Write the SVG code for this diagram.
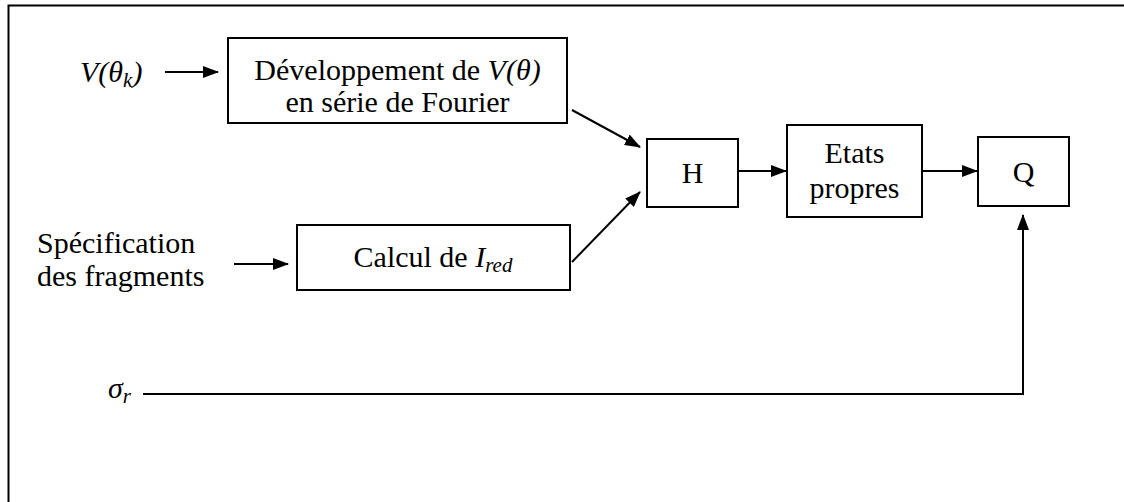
<svg xmlns="http://www.w3.org/2000/svg" width="1124" height="502" viewBox="0 0 1124 502">
<style>
.box{fill:#fff;stroke:#000;stroke-width:2}
.t{font-family:"Liberation Serif","Times New Roman",serif;font-size:30px;fill:#000}
.i{font-style:italic}
.s{font-size:21px}
.c{stroke:#000;stroke-width:2;fill:none}
</style>
<defs>
<marker id="ah" viewBox="0 0 16 12" refX="15" refY="6" markerWidth="16" markerHeight="12" markerUnits="userSpaceOnUse" orient="auto">
<path d="M0,0 L16,6 L0,12 z" fill="#000"/>
</marker>
</defs>
<rect width="1124" height="502" fill="#fff"/>
<path d="M8.5,502 V5.5 H1124" fill="none" stroke="#000" stroke-width="2"/>
<g id="in1"><text class="t i" x="80" y="82">V(θ<tspan class="s" dy="5">k</tspan><tspan dy="-5">)</tspan></text></g>
<g id="in2"><text class="t" x="37" y="253">Spécification</text><text class="t" x="37" y="286">des fragments</text></g>
<g id="in3"><text class="t i" x="108" y="398">σ<tspan class="s" dy="5">r</tspan></text></g>
<g id="dev"><rect class="box" x="228" y="38" width="339" height="85"/>
<text class="t" x="397.5" y="80" text-anchor="middle">Développement de <tspan class="i">V(θ)</tspan></text>
<text class="t" x="397.5" y="112" text-anchor="middle">en série de Fourier</text></g>
<g id="calc"><rect class="box" x="297" y="225" width="273" height="65"/>
<text class="t" x="433" y="267" text-anchor="middle">Calcul de <tspan class="i">I<tspan class="s" dy="5">red</tspan></tspan></text></g>
<g id="H"><rect class="box" x="647" y="139" width="91" height="68"/>
<text class="t" x="692.5" y="183" text-anchor="middle">H</text></g>
<g id="etats"><rect class="box" x="787" y="125" width="135" height="92"/>
<text class="t" x="854.5" y="163" text-anchor="middle">Etats</text>
<text class="t" x="854.5" y="198" text-anchor="middle">propres</text></g>
<g id="Q"><rect class="box" x="978" y="137" width="91" height="69"/>
<text class="t" x="1023.5" y="182" text-anchor="middle">Q</text></g>
<g id="connectors">
<line class="c" x1="165" y1="72" x2="218" y2="72" marker-end="url(#ah)"/>
<line class="c" x1="234" y1="264" x2="288" y2="264" marker-end="url(#ah)"/>
<line class="c" x1="572" y1="110" x2="640" y2="147" marker-end="url(#ah)"/>
<line class="c" x1="572" y1="262" x2="640" y2="192" marker-end="url(#ah)"/>
<line class="c" x1="738" y1="171" x2="786" y2="171" marker-end="url(#ah)"/>
<line class="c" x1="922" y1="171" x2="977" y2="171" marker-end="url(#ah)"/>
<path class="c" d="M143,394 H1023 V215" marker-end="url(#ah)"/>
</g>
</svg>
